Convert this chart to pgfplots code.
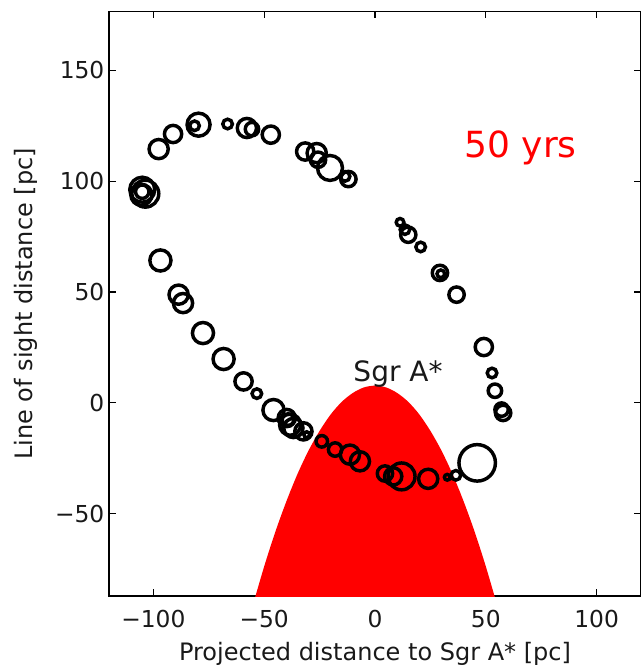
\documentclass[border=0pt]{standalone}
\usepackage{pgfplots}
\pgfplotsset{compat=1.18}
\usepackage{fontspec}
\setmainfont{DejaVu Sans}
\pgfplotstableread{
x y r
-105.0 96.1 13
-103.6 94.3 14
-105.4 93.8 11
-105.0 95.2 7
-97.6 114.4 10
-91.1 121.2 9
-79.6 125.4 12
-81.4 124.9 5
-66.5 125.7 5
-57.8 123.9 10
-55.5 123.4 7
-47.0 120.9 9
-31.5 113.3 9
-26.3 112.6 10
-25.7 109.6 8
-20.3 105.9 13
-12.0 100.9 8
-13.5 102.1 5
11.3 81.4 4
15.0 75.8 8
13.5 78.1 5
20.6 70.3 5
29.3 58.6 8
29.7 58.2 4
36.8 48.8 8
49.1 25.2 9
52.8 13.5 5
54.1 5.5 7
57.8 -4.5 8
57.1 -3.0 7
46.1 -27.0 19
36.5 -32.6 5
32.6 -33.5 3
24.0 -34.2 10
12.0 -33.1 14
8.2 -33.1 9
4.5 -31.8 8
-6.8 -26.3 10
-11.3 -23.3 10
-18.0 -21.0 7
-24.0 -17.3 6
-30.8 -14.3 3
-32.3 -12.8 9
-36.8 -11.3 10
-38.3 -9.8 11
-39.8 -6.8 9
-39.2 -7.5 6
-45.8 -3.2 11
-53.3 4.2 5
-59.3 9.7 9
-68.3 19.8 11
-77.6 31.5 11
-86.6 45.0 10
-88.6 48.8 10
-96.8 64.2 11
}\clouds
\begin{document}
\begin{tikzpicture}
\begin{axis}[
  scale only axis, width=399pt, height=438.2pt,
  xmin=-120, xmax=120, ymin=-87, ymax=176.3,
  axis line style={line width=1pt, black},
  tick align=inside, tick pos=both,
  major tick length=5pt,
  tick style={line width=0.8pt, black},
  xtick={-100,-50,0,50,100}, xticklabels={−100,−50,0,50,100},
  ytick={-50,0,50,100,150}, yticklabels={−50,0,50,100,150},
  tick label style={font=\fontsize{17.5}{20}\selectfont, text=black!90},
  xticklabel style={yshift=-6.75pt},
  label style={font=\fontsize{18}{21}\selectfont, text=black!90},
  xlabel={Projected distance to Sgr A* [pc]},
  ylabel={Line of sight distance [pc]},
  xlabel style={at={(axis description cs:0.5,-0.11)}, anchor=base},
  ylabel style={at={(axis description cs:-0.143,0.5)}, anchor=base},
]
\addplot[fill=red, draw=none, smooth] coordinates {
(-55,-90.8) (-50,-73.7) (-45,-58.2) (-40,-44.4) (-35,-32.1) (-30,-21.5)
(-25,-12.6) (-20,-5.2) (-15,0.5) (-10,4.5) (-5,7.0) (0,7.8)
(5,7.0) (10,4.5) (15,0.5) (20,-5.2) (25,-12.6) (30,-21.5)
(35,-32.1) (40,-44.4) (45,-58.2) (50,-73.7) (55,-90.8)
} -- cycle;
\addplot[scatter, only marks, mark=o,
  mark options={line width=2.6pt, draw=black},
  scatter/use mapped color={draw=black},
  visualization depends on={0.72*\thisrow{r} \as \rad},
  scatter/@pre marker code/.append style={/tikz/mark size=\rad}]
  table[x=x, y=y] {\clouds};
\node[text=red, font=\fontsize{27}{32}\selectfont, anchor=base] at (axis cs:65.7,110.4) {50 yrs};
\node[text=black!90, font=\fontsize{21}{25}\selectfont, anchor=base] at (axis cs:10.4,9.7) {Sgr A*};
\end{axis}
\pgfresetboundingbox
\path ([xshift=-81.75pt,yshift=-53.25pt]current axis.south west) rectangle ([yshift=8.8pt]current axis.north east);
\end{tikzpicture}
\end{document}
